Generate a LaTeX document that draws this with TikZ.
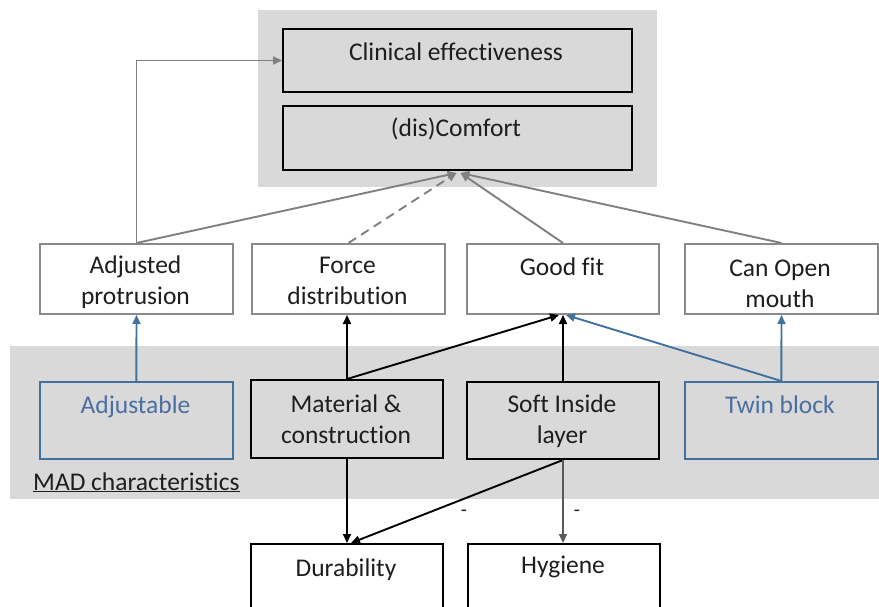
\documentclass[tikz,border=0pt]{standalone}
\usepackage{fontspec}
\setmainfont{Carlito}[Ligatures={NoCommon,NoContextual}]
\usetikzlibrary{arrows.meta,calc}
\definecolor{bandgray}{HTML}{D9D9D9}
\definecolor{arrgray}{HTML}{808080}
\definecolor{darkarr}{HTML}{595959}
\definecolor{boxgray}{HTML}{8A8A8A}
\definecolor{madblue}{HTML}{41719C}
\definecolor{madtext}{HTML}{4A6FA0}
\definecolor{txt}{HTML}{1E1E1E}
\tikzset{
  box/.style={draw, rectangle, inner sep=0pt, anchor=north west},
  blackbox/.style={box, draw=black, line width=2pt},
  graybox/.style={box, draw=boxgray, line width=2pt, fill=white},
  bluebox/.style={box, draw=madblue, line width=1.7pt},
  lbl/.style={anchor=base, align=center, inner sep=0pt, text=txt, font=\fontsize{25.5}{31}\selectfont},
  bluelbl/.style={lbl, text=madtext},
  tipstyle/.style={-{Triangle[length=9pt,width=8pt]}},
  garrow/.style={tipstyle, draw=arrgray, line width=1.9pt},
  barrow/.style={tipstyle, draw=black, line width=1.9pt},
  blarrow/.style={tipstyle, draw=madblue, line width=1.9pt},
  darrow/.style={tipstyle, draw=darkarr, line width=1.9pt},
}
\begin{document}
\begin{tikzpicture}[x=1pt,y=-1pt]
\useasboundingbox (0,0) rectangle (879,607);
% backgrounds
\fill[bandgray] (258,10) rectangle (657,187);
\fill[bandgray] (10,346) rectangle (879,499);
% top boxes
\node[blackbox, minimum width=349pt, minimum height=63pt] (ce) at (282,28) {};
\node[blackbox, minimum width=349pt, minimum height=64pt] (dc) at (282,105) {};
\node[lbl] (cet) at (456,61) {Clinical effectiveness};
\node[lbl] (dct) at (456,137) {(dis)Comfort};
% middle row
\node[graybox, minimum width=193pt, minimum height=70pt] (ap) at (39,243) {};
\node[graybox, minimum width=193pt, minimum height=70pt] (fd) at (251,243) {};
\node[graybox, minimum width=192pt, minimum height=70pt] (gf) at (466,243) {};
\node[graybox, minimum width=193pt, minimum height=70pt] (com) at (684,243) {};
\node[lbl] (apt) at (135.5,304) {Adjusted\\protrusion};
\node[lbl] (fdt) at (347.5,304) {Force\\distribution};
\node[lbl] (gft) at (562,276) {Good fit};
\node[lbl] (comt) at (780,307) {Can Open\\mouth};
% MAD row
\node[bluebox, minimum width=193pt, minimum height=77pt] (adj) at (39,381) {};
\node[blackbox, minimum width=192pt, minimum height=78pt] (mc) at (250,379) {};
\node[blackbox, minimum width=192pt, minimum height=77pt] (si) at (466,381) {};
\node[bluebox, minimum width=193pt, minimum height=77pt] (tb) at (684,381) {};
\node[bluelbl] (adjt) at (135.5,413) {Adjustable};
\node[lbl] (mct) at (346,443) {Material \&\\construction};
\node[lbl] (sit) at (562,443) {Soft Inside\\layer};
\node[bluelbl] (tbt) at (780,413) {Twin block};
\node[lbl, anchor=base west] (mad) at (33,490) {\underline{MAD characteristics}};
% bottom row
\node[blackbox, minimum width=192pt, minimum height=80pt] (du) at (250,543) {};
\node[blackbox, minimum width=192pt, minimum height=80pt] (hy) at (467,543) {};
\node[lbl] (dut) at (346,576) {Durability};
\node[lbl] (hyt) at (563,573) {Hygiene};
% target coordinates
\coordinate (dcL) at ($(dc.south)+(-1,2)$);
\coordinate (dcR) at ($(dc.south)+(3,2)$);
\coordinate (gfL) at ($(gf.south)+(-4,0)$);
\coordinate (gfR) at ($(gf.south)+(3,0)$);
\coordinate (duR) at ($(du.north)+(4,0)$);
% connectors
\draw[garrow] (ap.north) -- (ap.north |- ce.west) -- (ce.west);
\draw[garrow] (ap.north) -- (dcL);
\draw[garrow, dashed, dash pattern=on 9pt off 6pt] (fd.north) -- (dcL);
\draw[garrow] (gf.north) -- (dcR);
\draw[garrow] (com.north) -- (dcR);
\draw[blarrow] (adj.north) -- (ap.south);
\draw[barrow] (mc.north) -- (mc.north |- fd.south);
\draw[barrow] (mc.north) -- (gfL);
\draw[barrow] (si.north) -- (gf.south);
\draw[blarrow] (tb.north) -- (gfR);
\draw[blarrow] (tb.north) -- (com.south);
\draw[barrow] (mc.south) -- (mc.south |- du.north);
\draw[barrow] (si.south) -- (duR);
\draw[darrow] (si.south) -- (si.south |- hy.north);
\node[lbl, font=\fontsize{20}{24}\selectfont] (m1) at (464,516) {-};
\node[lbl, font=\fontsize{20}{24}\selectfont] (m2) at (577,516) {-};
\end{tikzpicture}
\end{document}
